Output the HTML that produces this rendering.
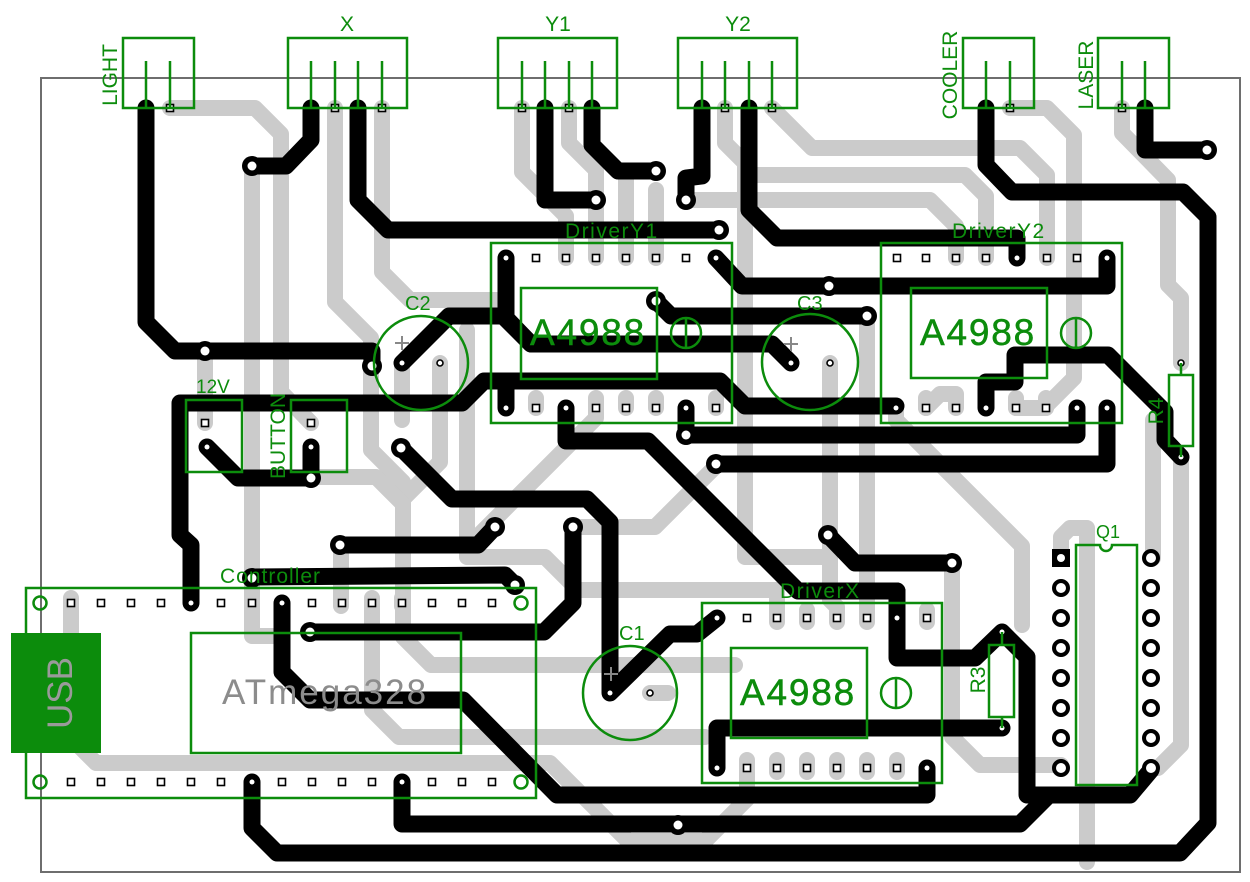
<!DOCTYPE html>
<html><head><meta charset="utf-8"><style>html,body{margin:0;padding:0;background:#fff}svg{display:block}</style></head>
<body>
<svg width="1250" height="882" viewBox="0 0 1250 882" xmlns="http://www.w3.org/2000/svg" font-family="'Liberation Sans', sans-serif">
<rect width="1250" height="882" fill="#fff"/>
<rect x="41" y="78" width="1199" height="794" fill="none" stroke="#6e6e6e" stroke-width="2"/>

<!-- bottom layer (gray) -->
<g stroke="#cbcbcb" stroke-width="16" fill="none" stroke-linecap="round" stroke-linejoin="round">
<path d="M170,108 L255,108 L281,134 L281,392 L311,423"/>
<path d="M252,166 L252,636 L280,636"/>
<path d="M335,108 L335,302 L371,338 L371,450 L403,482 L403,637 L431,665 L735,665"/>
<path d="M382,108 L382,272 L410,300 L497,300"/>
<path d="M440,363 L440,462 L403,499"/>
<path d="M311,477 L376,477 L403,504"/>
<path d="M467,330 L467,557 L545,557 L578,590 L777,590 L777,618"/>
<path d="M596,408 L596,418 L470,544"/>
<path d="M573,527 L655,527 L716,466"/>
<path d="M522,108 L522,172 L566,216 L566,258"/>
<path d="M569,108 L569,143 L596,170 L596,258"/>
<path d="M656,171 L626,171 L626,258"/>
<path d="M656,258 L656,190"/>
<path d="M725,108 L725,143 L745,163 L745,557 L830,557"/>
<path d="M745,175 L965,175 L986,196 L986,258"/>
<path d="M685,200 L930,200 L956,226 L956,258"/>
<path d="M772,108 L812,148 L1020,148 L1047,175 L1047,258"/>
<path d="M1010,108 L1047,108 L1074,135 L1074,378 L1046,406"/>
<path d="M1122,108 L1122,133 L1168,180 L1168,285 L1181,298 L1181,363"/>
<path d="M830,363 L830,600 L837,607 L837,618"/>
<path d="M867,317 L867,618"/>
<path d="M205,351 L205,423"/>
<path d="M402,363 L402,420"/>
<path d="M896,408 L896,420 L1022,546 L1022,625"/>
<path d="M1061,558 L1061,537 L1070,528 L1087,528 L1087,862"/>
<path d="M1153,420 L1153,558"/>
<path d="M1181,457 L1181,745 L1158,768 L1151,768"/>
<path d="M952,563 L952,737 L980,765 L1061,765"/>
<path d="M71,603 L71,738 L96,763 L550,763 L628,841 L705,841 L747,799 L747,768"/>
<path d="M372,603 L372,710 L399,737 L705,737"/>
<path d="M341,603 L341,545"/>
<path d="M926,408 L940,394 L956,394 L956,408"/>
<path d="M1016,408 L1046,408"/>
<path d="M650,693 L668,693"/>
<!-- oblong pads -->
<path d="M536,398V408 M596,398V408 M626,398V408 M656,398V408 M716,398V408"/>
<path d="M926,398V408 M1016,398V408 M1046,398V408"/>
<path d="M777,610V622 M807,610V622 M837,610V622 M867,610V622 M927,610V622"/>
<path d="M747,760V772 M777,760V772 M807,760V772 M837,760V772 M867,760V772 M897,760V772"/>
<path d="M71,598V606 M252,598V606 M341,598V606 M372,598V606 M402,598V606"/>
</g>

<!-- top layer (black) -->
<g stroke="#000" stroke-width="17" fill="none" stroke-linecap="round" stroke-linejoin="round">
<path d="M146,108 L146,322 L175,351 L372,351 L372,366"/>
<path d="M311,108 L311,140 L286,166 L252,166"/>
<path d="M358,108 L358,200 L388,230 L719,230"/>
<path d="M545,108 L545,200 L596,200"/>
<path d="M592,108 L592,145 L618,171 L656,171"/>
<path d="M702,108 L702,176 L686,178 L686,200"/>
<path d="M749,108 L749,210 L777,238 L1017,238 L1017,258"/>
<path d="M986,108 L986,165 L1012,192 L1183,192 L1208,217 L1208,823 L1180,853 L277,853 L252,828 L252,782"/>
<path d="M1145,108 L1145,150 L1207,150"/>
<path d="M716,258 L742,286 L1107,286 L1107,258"/>
<path d="M656,301 L671,316 L867,316"/>
<path d="M402,363 L449,316 L503,316 L531,344 L772,344 L791,363"/>
<path d="M506,258 L506,318 L531,344"/>
<path d="M191,603 L191,545 L180,535 L180,403 L462,403 L484,381 L720,381 L745,406 L896,406"/>
<path d="M506,408 L506,381"/>
<path d="M207,447 L238,478 L311,478 M311,447 L311,478"/>
<path d="M401,448 L452,499 L587,499 L610,522 L610,693 L670,634 L697,634 L717,618"/>
<path d="M340,545 L478,545 L495,527"/>
<path d="M573,527 L573,603 L544,632 L310,632"/>
<path d="M252,577 L505,575 L515,585"/>
<path d="M282,603 L282,672 L310,700 L463,700 L557,795 L927,795 L927,768"/>
<path d="M402,782 L402,824 L1020,824 L1048,796"/>
<path d="M897,591 L897,658 L975,658 L1002,632 L1027,657 L1027,795 L1130,795 L1151,770"/>
<path d="M566,408 L566,441 L648,441 L798,591 L897,591"/>
<path d="M717,768 L717,728 L1002,728"/>
<path d="M828,535 L855,563 L952,563"/>
<path d="M686,408 L686,435 L1077,435 L1077,408"/>
<path d="M716,464 L1107,464 L1107,408"/>
<path d="M986,408 L986,382 L1015,382 L1015,355 L1108,355 L1165,412 L1165,440 L1181,457"/>
</g>

<!-- vias -->
<g fill="#000">
<circle cx="252" cy="166" r="10"/><circle cx="719" cy="230" r="10"/><circle cx="596" cy="200" r="10"/>
<circle cx="656" cy="171" r="10"/><circle cx="686" cy="200" r="10"/><circle cx="1207" cy="150" r="10"/>
<circle cx="656" cy="301" r="10"/><circle cx="867" cy="316" r="10"/><circle cx="372" cy="366" r="10"/>
<circle cx="205" cy="351" r="10"/><circle cx="311" cy="478" r="10"/><circle cx="401" cy="448" r="10"/>
<circle cx="340" cy="545" r="10"/><circle cx="495" cy="527" r="10"/><circle cx="573" cy="527" r="10"/>
<circle cx="310" cy="632" r="10"/><circle cx="515" cy="585" r="10"/><circle cx="828" cy="535" r="10"/>
<circle cx="952" cy="563" r="10"/><circle cx="686" cy="435" r="10"/><circle cx="716" cy="464" r="10"/>
<circle cx="678" cy="825" r="10"/><circle cx="829" cy="286" r="10"/><circle cx="252" cy="578" r="10"/>
</g>
<g fill="#fff">
<circle cx="252" cy="166" r="4.5"/><circle cx="719" cy="230" r="4.5"/><circle cx="596" cy="200" r="4.5"/>
<circle cx="656" cy="171" r="4.5"/><circle cx="686" cy="200" r="4.5"/><circle cx="1207" cy="150" r="4.5"/>
<circle cx="656" cy="301" r="4.5"/><circle cx="867" cy="316" r="4.5"/><circle cx="372" cy="366" r="4.5"/>
<circle cx="205" cy="351" r="4.5"/><circle cx="311" cy="478" r="4.5"/><circle cx="401" cy="448" r="4.5"/>
<circle cx="340" cy="545" r="4.5"/><circle cx="495" cy="527" r="4.5"/><circle cx="573" cy="527" r="4.5"/>
<circle cx="310" cy="632" r="4.5"/><circle cx="515" cy="585" r="4.5"/><circle cx="828" cy="535" r="4.5"/>
<circle cx="952" cy="563" r="4.5"/><circle cx="686" cy="435" r="4.5"/><circle cx="716" cy="464" r="4.5"/>
<circle cx="678" cy="825" r="4.5"/><circle cx="829" cy="286" r="4.5"/><circle cx="252" cy="578" r="4.5"/>
<!-- pad holes on black pads -->
<circle cx="506" cy="258" r="2.5"/><circle cx="716" cy="258" r="2.5"/>
<circle cx="506" cy="408" r="2.5"/><circle cx="566" cy="408" r="2.5"/><circle cx="686" cy="408" r="2.5"/>
<circle cx="1017" cy="258" r="2.5"/><circle cx="1107" cy="258" r="2.5"/>
<circle cx="896" cy="408" r="2.5"/><circle cx="986" cy="408" r="2.5"/><circle cx="1077" cy="408" r="2.5"/><circle cx="1107" cy="408" r="2.5"/>
<circle cx="717" cy="618" r="2.5"/><circle cx="897" cy="618" r="2.5"/>
<circle cx="717" cy="768" r="2.5"/><circle cx="927" cy="768" r="2.5"/>
<circle cx="191" cy="603" r="2.5"/><circle cx="282" cy="603" r="2.5"/>
<circle cx="252" cy="782" r="2.5"/><circle cx="402" cy="782" r="2.5"/>
<circle cx="207" cy="447" r="2.5"/><circle cx="311" cy="447" r="2.5"/>
<circle cx="402" cy="363" r="2.5"/><circle cx="791" cy="363" r="2.5"/><circle cx="610" cy="693" r="2.5"/>
<circle cx="1002" cy="632" r="2.5"/><circle cx="1002" cy="728" r="2.5"/><circle cx="1181" cy="457" r="2.5"/>
</g>

<!-- small square pads -->
<g fill="#fff" stroke="#000" stroke-width="1.6">
<rect x="532.5" y="254.5" width="7" height="7"/><rect x="562.5" y="254.5" width="7" height="7"/><rect x="592.5" y="254.5" width="7" height="7"/><rect x="622.5" y="254.5" width="7" height="7"/><rect x="652.5" y="254.5" width="7" height="7"/><rect x="682.5" y="254.5" width="7" height="7"/>
<rect x="532.5" y="404.5" width="7" height="7"/><rect x="592.5" y="404.5" width="7" height="7"/><rect x="622.5" y="404.5" width="7" height="7"/><rect x="652.5" y="404.5" width="7" height="7"/><rect x="712.5" y="404.5" width="7" height="7"/>
<rect x="893.5" y="254.5" width="7" height="7"/><rect x="922.5" y="254.5" width="7" height="7"/><rect x="952.5" y="254.5" width="7" height="7"/><rect x="982.5" y="254.5" width="7" height="7"/><rect x="1043.5" y="254.5" width="7" height="7"/><rect x="1073.5" y="254.5" width="7" height="7"/>
<rect x="922.5" y="404.5" width="7" height="7"/><rect x="952.5" y="404.5" width="7" height="7"/><rect x="1012.5" y="404.5" width="7" height="7"/><rect x="1042.5" y="404.5" width="7" height="7"/>
<rect x="743.5" y="614.5" width="7" height="7"/><rect x="773.5" y="614.5" width="7" height="7"/><rect x="803.5" y="614.5" width="7" height="7"/><rect x="833.5" y="614.5" width="7" height="7"/><rect x="863.5" y="614.5" width="7" height="7"/><rect x="923.5" y="614.5" width="7" height="7"/>
<rect x="743.5" y="764.5" width="7" height="7"/><rect x="773.5" y="764.5" width="7" height="7"/><rect x="803.5" y="764.5" width="7" height="7"/><rect x="833.5" y="764.5" width="7" height="7"/><rect x="863.5" y="764.5" width="7" height="7"/><rect x="893.5" y="764.5" width="7" height="7"/>
<rect x="67.5" y="599.5" width="7" height="7"/><rect x="97.5" y="599.5" width="7" height="7"/><rect x="127.5" y="599.5" width="7" height="7"/><rect x="157.5" y="599.5" width="7" height="7"/><rect x="217.5" y="599.5" width="7" height="7"/><rect x="248.5" y="599.5" width="7" height="7"/><rect x="308.5" y="599.5" width="7" height="7"/><rect x="338.5" y="599.5" width="7" height="7"/><rect x="368.5" y="599.5" width="7" height="7"/><rect x="398.5" y="599.5" width="7" height="7"/><rect x="428.5" y="599.5" width="7" height="7"/><rect x="458.5" y="599.5" width="7" height="7"/><rect x="488.5" y="599.5" width="7" height="7"/>
<rect x="67.5" y="778.5" width="7" height="7"/><rect x="97.5" y="778.5" width="7" height="7"/><rect x="127.5" y="778.5" width="7" height="7"/><rect x="157.5" y="778.5" width="7" height="7"/><rect x="187.5" y="778.5" width="7" height="7"/><rect x="217.5" y="778.5" width="7" height="7"/><rect x="278.5" y="778.5" width="7" height="7"/><rect x="308.5" y="778.5" width="7" height="7"/><rect x="338.5" y="778.5" width="7" height="7"/><rect x="368.5" y="778.5" width="7" height="7"/><rect x="428.5" y="778.5" width="7" height="7"/><rect x="458.5" y="778.5" width="7" height="7"/><rect x="488.5" y="778.5" width="7" height="7"/>
<rect x="201.5" y="419.5" width="7" height="7"/><rect x="307.5" y="419.5" width="7" height="7"/>
<rect x="166.5" y="104.5" width="7" height="7"/><rect x="331.5" y="104.5" width="7" height="7"/><rect x="378.5" y="104.5" width="7" height="7"/>
<rect x="518.5" y="104.5" width="7" height="7"/><rect x="565.5" y="104.5" width="7" height="7"/>
<rect x="721.5" y="104.5" width="7" height="7"/><rect x="768.5" y="104.5" width="7" height="7"/>
<rect x="1006.5" y="104.5" width="7" height="7"/><rect x="1118.5" y="104.5" width="7" height="7"/>
<circle cx="440" cy="363" r="3"/><circle cx="830" cy="363" r="3"/><circle cx="650" cy="693" r="3"/><circle cx="1181" cy="363" r="3"/>
</g>

<!-- Q1 pads -->
<g fill="#fff" stroke="#000" stroke-width="4">
<circle cx="1061" cy="588" r="7"/><circle cx="1061" cy="618" r="7"/><circle cx="1061" cy="648" r="7"/><circle cx="1061" cy="678" r="7"/><circle cx="1061" cy="708" r="7"/><circle cx="1061" cy="738" r="7"/><circle cx="1061" cy="768" r="7"/>
<circle cx="1151" cy="558" r="7"/><circle cx="1151" cy="588" r="7"/><circle cx="1151" cy="618" r="7"/><circle cx="1151" cy="648" r="7"/><circle cx="1151" cy="678" r="7"/><circle cx="1151" cy="708" r="7"/><circle cx="1151" cy="738" r="7"/><circle cx="1151" cy="768" r="7"/>
</g>
<rect x="1052" y="549" width="18" height="18" fill="#000"/>
<circle cx="1061" cy="558" r="4" fill="#fff"/>

<!-- silkscreen green -->
<g stroke="#0c8c0c" stroke-width="2.5" fill="none">
<rect x="123" y="38" width="71" height="70"/>
<rect x="288" y="38" width="119" height="70"/>
<rect x="498" y="38" width="119" height="70"/>
<rect x="678" y="38" width="119" height="70"/>
<rect x="963" y="38" width="71" height="70"/>
<rect x="1098" y="38" width="71" height="70"/>
<path d="M146,61V108 M170,61V108 M311,61V108 M335,61V108 M358,61V108 M382,61V108 M522,61V108 M545,61V108 M569,61V108 M592,61V108 M702,61V108 M725,61V108 M749,61V108 M772,61V108 M986,61V108 M1010,61V108 M1122,61V108 M1145,61V108"/>
<rect x="491" y="243" width="241" height="180"/>
<rect x="521" y="288" width="136" height="91"/>
<circle cx="686" cy="333" r="15"/><path d="M686,318V348"/>
<rect x="881" y="243" width="241" height="180"/>
<rect x="911" y="288" width="136" height="90"/>
<circle cx="1076" cy="333" r="15"/><path d="M1076,318V348"/>
<rect x="702" y="603" width="240" height="180"/>
<rect x="731" y="648" width="136" height="90"/>
<circle cx="896" cy="693" r="15"/><path d="M896,678V708"/>
<rect x="26" y="588" width="510" height="210"/>
<rect x="191" y="633" width="270" height="120"/>
<circle cx="40" cy="603" r="6.5"/><circle cx="40" cy="782" r="6.5"/><circle cx="521" cy="603" r="6.5"/><circle cx="521" cy="782" r="6.5"/>
<rect x="186" y="400" width="56" height="72"/>
<rect x="291" y="400" width="56" height="72"/>
<rect x="1169" y="375" width="24" height="71"/><path d="M1181,363V375 M1181,446V457"/>
<rect x="989" y="645" width="25" height="72"/><path d="M1002,632V645 M1002,717V728"/>
<path d="M1100,545 H1076 V785 H1137 V545 H1112 A6,6 0 0 1 1100,545 Z"/>
<circle cx="421" cy="363" r="47"/>
<circle cx="810" cy="362" r="48"/>
<circle cx="630" cy="693" r="47"/>
</g>
<rect x="11" y="633" width="90" height="120" fill="#0c8c0c"/>
<g stroke="#888" stroke-width="2">
<path d="M395,343H409 M402,336V350"/>
<path d="M784,344H798 M791,337V351"/>
<path d="M604,674H618 M611,667V681"/>
</g>

<!-- text -->
<g fill="#0c8c0c" font-size="21">
<text x="347" y="31" text-anchor="middle">X</text>
<text x="558" y="31" text-anchor="middle">Y1</text>
<text x="738" y="31" text-anchor="middle">Y2</text>
<text transform="translate(117,75) rotate(-90)" text-anchor="middle">LIGHT</text>
<text transform="translate(957,75) rotate(-90)" text-anchor="middle">COOLER</text>
<text transform="translate(1093,75) rotate(-90)" text-anchor="middle">LASER</text>
<text transform="translate(285,436) rotate(-90)" text-anchor="middle">BUTTON</text>
<text transform="translate(1163,411) rotate(-90)" text-anchor="middle">R4</text>
<text transform="translate(985,680) rotate(-90)" text-anchor="middle">R3</text>
<text x="196" y="393" font-size="19">12V</text>
<text x="405" y="310" font-size="20">C2</text>
<text x="797" y="310" font-size="20">C3</text>
<text x="619" y="640" font-size="20">C1</text>
<text x="1096" y="538" font-size="18">Q1</text>
<text x="220" y="583" letter-spacing="1">Controller</text>
<text x="565" y="238" letter-spacing="1.5">DriverY1</text>
<text x="952" y="238" letter-spacing="1.5">DriverY2</text>
<text x="780" y="598" letter-spacing="1.5">DriverX</text>
</g>
<g fill="#0c8c0c" stroke="#0c8c0c" stroke-width="0.5" font-size="37" letter-spacing="1.8">
<text x="530" y="345">A4988</text>
<text x="920" y="345">A4988</text>
<text x="740" y="705">A4988</text>
</g>
<text x="222" y="704" font-size="35" letter-spacing="2" fill="#8c8c8c">ATmega328</text>
<text transform="translate(72,693) rotate(-90)" text-anchor="middle" font-size="35" fill="#9a9a9a">USB</text>
</svg>
</body></html>
